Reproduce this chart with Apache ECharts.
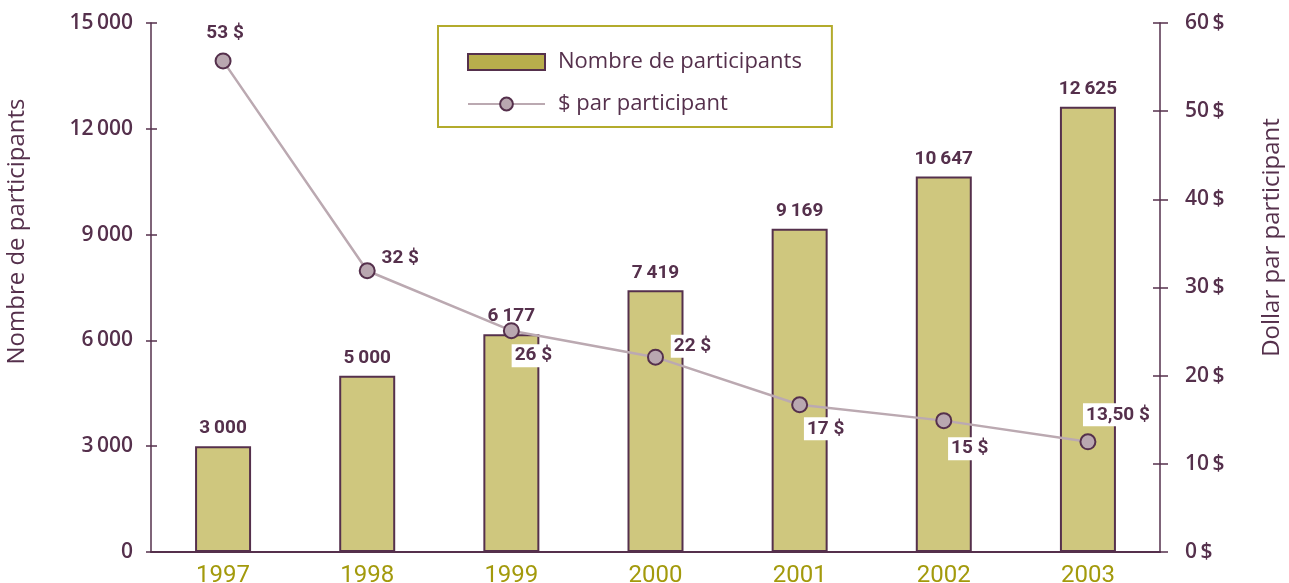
<!DOCTYPE html>
<html>
<head>
<meta charset="utf-8">
<script src="https://cdn.jsdelivr.net/npm/echarts@6/dist/echarts.min.js"></script>
<style>
  html, body { margin: 0; padding: 0; background: #fff; }
  #chart { width: 1289px; height: 583px; }
</style>
</head>
<body>
<div id="chart"></div>
<script>
// données
var years = ['1997', '1998', '1999', '2000', '2001', '2002', '2003'];
var participants = [3000, 5000, 6177, 7419, 9169, 10647, 12625];
var dollarParParticipant = [55.7, 31.9, 25.1, 22.1, 16.7, 14.9, 12.5];
var dollarLabels = ['53 $', '32 $', '26 $', '22 $', '17 $', '15 $', '13,50 $'];
var leftTicks = [0, 3000, 6000, 9000, 12000, 15000];
var rightTicks = [0, 10, 20, 30, 40, 50, 60];

(function () {
  var purple = '#55304c';
  var olive = '#a39a0c';
  var narrow = "'Liberation Sans Narrow', Roboto, sans-serif";
  var humanist = "'Open Sans', 'Noto Sans', sans-serif";

  // décalage des étiquettes de la ligne (mise en page)
  var labelOffsets = [[2, -28], [33, -12], [22, 25], [37, -11], [26, 24], [26, 28], [30, -27]];

  function milliers(v) {
    return String(v).replace(/\B(?=(\d{3})+(?!\d))/g, '\u2009');
  }

  var lineData = dollarParParticipant.map(function (v, i) {
    return {
      value: v,
      label: {
        show: true,
        position: 'inside',
        offset: labelOffsets[i],
        formatter: dollarLabels[i]
      }
    };
  });

  var myChart = echarts.init(document.getElementById('chart'));
  var option = {
    animation: false,
    grid: { left: 151, right: 129, top: 23, bottom: 31, outerBoundsMode: 'none' },
    legend: {
      orient: 'vertical',
      left: 438,
      top: 26,
      padding: [25, 30, 12, 29],
      itemGap: 20,
      itemWidth: 77,
      itemHeight: 16,
      borderColor: '#b3ab2c',
      borderWidth: 2,
      textStyle: { color: purple, fontSize: 22, fontFamily: humanist, padding: [0, 0, 0, 8] },
      data: [
        { name: 'Nombre de participants', icon: 'rect', itemStyle: { color: '#b8ae4c', borderColor: purple, borderWidth: 2 } },
        { name: '$ par participant' }
      ]
    },
    xAxis: {
      type: 'category',
      data: years,
      axisLine: { lineStyle: { color: purple, width: 2 } },
      axisTick: { show: false },
      axisLabel: { color: olive, fontSize: 24, fontFamily: narrow, margin: 12 }
    },
    yAxis: [
      {
        type: 'value',
        position: 'left',
        min: 0, max: 15000, interval: 3000,
        name: 'Nombre de participants',
        nameLocation: 'middle',
        nameGap: 122,
        nameRotate: 90,
        nameTextStyle: { color: purple, fontSize: 24, fontFamily: humanist, padding: [0, 0, 0, 112] },
        axisLine: { show: true, lineStyle: { color: purple, width: 1.5 } },
        axisTick: { show: true, length: 5, lineStyle: { color: purple, width: 1.5 } },
        splitLine: { show: false },
        axisLabel: {
          color: purple, fontSize: 21, fontWeight: 600, fontFamily: humanist, margin: 18,
          formatter: function (v) { return leftTicks.indexOf(v) >= 0 ? milliers(v) : ''; }
        }
      },
      {
        type: 'value',
        position: 'right',
        min: 0, max: 60, interval: 10,
        name: 'Dollar par participant',
        nameLocation: 'middle',
        nameGap: 100,
        nameRotate: 90,
        nameTextStyle: { color: purple, fontSize: 24, fontFamily: humanist, padding: [0, 0, 0, 100] },
        axisLine: { show: true, lineStyle: { color: purple, width: 1.5 } },
        axisTick: { show: true, length: 8, lineStyle: { color: purple, width: 1.5 } },
        splitLine: { show: false },
        axisLabel: {
          color: purple, fontSize: 21, fontWeight: 600, fontFamily: humanist, margin: 25,
          formatter: function (v) { return rightTicks.indexOf(v) >= 0 ? v + '\u2009$' : ''; }
        }
      },
      {
        // graduations intérieures, côté gauche
        type: 'value', position: 'left',
        min: 0, max: 15000, interval: 3000,
        axisLine: { show: false },
        axisTick: { show: true, inside: true, length: 6, lineStyle: { color: purple, width: 1.5 } },
        axisLabel: { show: false },
        splitLine: { show: false }
      },
      {
        // graduations intérieures, côté droit
        type: 'value', position: 'right',
        min: 0, max: 60, interval: 10,
        axisLine: { show: false },
        axisTick: { show: true, inside: true, length: 7, lineStyle: { color: purple, width: 1.5 } },
        axisLabel: { show: false },
        splitLine: { show: false }
      }
    ],
    series: [
      {
        name: 'Nombre de participants',
        type: 'bar',
        yAxisIndex: 0,
        data: participants,
        barWidth: 56,
        itemStyle: { color: '#cfc77e', borderColor: purple, borderWidth: 2 },
        label: {
          show: true,
          position: 'top',
          distance: 8,
          color: purple,
          fontSize: 19,
          fontWeight: 'bold',
          fontFamily: narrow,
          formatter: function (p) { return milliers(p.value); }
        }
      },
      {
        name: '$ par participant',
        type: 'line',
        yAxisIndex: 1,
        data: lineData,
        symbol: 'circle',
        symbolSize: 15,
        lineStyle: { color: '#bba9b1', width: 2.5 },
        itemStyle: { color: '#b9a7b0', borderColor: purple, borderWidth: 2 },
        label: {
          color: purple,
          fontSize: 19,
          fontWeight: 'bold',
          fontFamily: narrow,
          backgroundColor: '#fff',
          padding: [2, 3]
        },
        z: 5
      }
    ]
  };
  myChart.setOption(option);
})();
</script>
</body>
</html>
